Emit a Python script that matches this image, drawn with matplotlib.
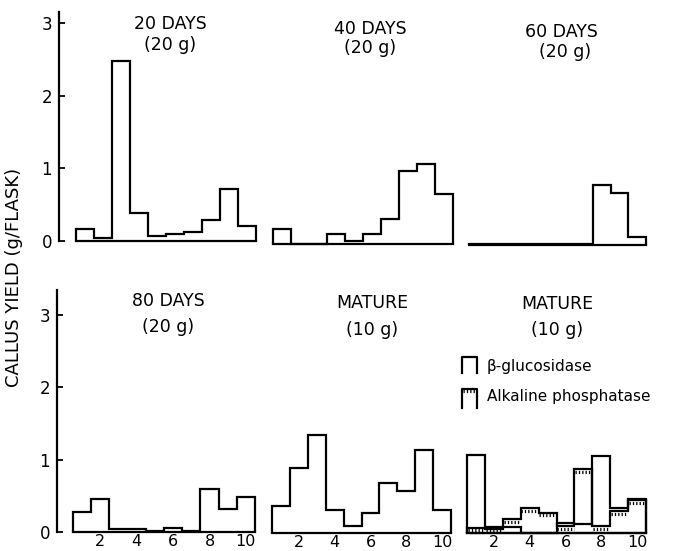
import numpy as np
import matplotlib
matplotlib.use("Agg")
import matplotlib.pyplot as plt
from matplotlib import transforms as mtransforms
from matplotlib.lines import Line2D

# ---------------- data ----------------
fractions = np.arange(1, 11)
edges = np.arange(0.5, 11.0, 1.0)

days20 = [0.16, 0.04, 2.47, 0.39, 0.07, 0.10, 0.12, 0.29, 0.72, 0.21]
days40 = [0.20, 0.00, 0.00, 0.14, 0.04, 0.14, 0.35, 1.01, 1.10, 0.69]
days60 = [0.01, 0.02, 0.01, 0.01, 0.01, 0.02, 0.01, 0.82, 0.72, 0.11]
days80 = [0.28, 0.45, 0.045, 0.045, 0.02, 0.05, 0.02, 0.59, 0.32, 0.49]
mature_a = [0.37, 0.90, 1.35, 0.32, 0.10, 0.28, 0.69, 0.58, 1.14, 0.32]
mature_gluc = [1.08, 0.08, 0.08, 0.00, 0.00, 0.14, 0.12, 1.06, 0.35, 0.47]
mature_alk = [0.07, 0.06, 0.19, 0.34, 0.28, 0.09, 0.88, 0.09, 0.30, 0.45]

titles = [("20 DAYS", "(20 g)"), ("40 DAYS", "(20 g)"), ("60 DAYS", "(20 g)"),
          ("80 DAYS", "(20 g)"), ("MATURE", "(10 g)"), ("MATURE", "(10 g)")]
yticks = [0, 1, 2, 3]
xticks = [2, 4, 6, 8, 10]
ylabel = "CALLUS YIELD (g/FLASK)"
legend_labels = ["\u03b2-glucosidase", "Alkaline phosphatase"]

# ---------------- layout ----------------
W, H = 673, 551
fig = plt.figure(figsize=(W / 100, H / 100), dpi=100)
plt.rcParams['font.family'] = ['DejaVu Sans']
px = mtransforms.Affine2D().scale(1.0 / W, -1.0 / H).translate(0, 1) + fig.transFigure

LW = 1.6
FS_T = 12.5
FS_TICK = 12

def make_ax(x0, x1, base, ytop, scale):
    rect = [x0 / W, (H - base) / H, (x1 - x0) / W, ytop * scale / H]
    ax = fig.add_axes(rect)
    ax.set_xlim(0.5, 10.5)
    ax.set_ylim(0, ytop)
    for s in ax.spines.values():
        s.set_visible(False)
    ax.patch.set_visible(False)
    return ax

top_specs = [(76, 256, 241), (273, 453, 244), (469, 646, 245)]
bot_specs = [(73, 255, 532), (272, 451, 533), (467, 646, 533)]

axes = []
for (x0, x1, b) in top_specs:
    axes.append(make_ax(x0, x1, b, 3.3, 72.7))
for (x0, x1, b) in bot_specs:
    axes.append(make_ax(x0, x1, b, 3.45, 72.4))

def outline(ax, vals):
    ax.stairs(vals, edges, baseline=0, fill=False, color='black',
              linewidth=LW, clip_on=False)
    ax.plot([edges[0], edges[-1]], [0, 0], color='black', lw=LW,
            clip_on=False, solid_capstyle='projecting')

HATCH = (0, (0.4, 0.65))

def hatched(ax, vals):
    outline(ax, vals)
    off = mtransforms.offset_copy(ax.transData, fig=fig, y=-2.4, units='dots')
    ax.hlines(vals, edges[:-1] + 0.04, edges[1:] - 0.04, colors='black',
              linewidth=2.3, linestyles=HATCH, transform=off, clip_on=False)

series = [days20, days40, days60, days80, mature_a]
for ax, vals in zip(axes[:5], series):
    outline(ax, vals)
outline(axes[5], mature_gluc)
hatched(axes[5], mature_alk)

# axes / ticks
for i, ax in enumerate(axes):
    if i in (0, 3):
        ax.spines['left'].set_visible(True)
        ax.spines['left'].set_linewidth(LW)
        ax.spines['left'].set_position(('outward', 12.2 if i == 0 else 11.5))
        ax.spines['left'].set_bounds(0, 3.15 if i == 0 else 3.34)
        ax.set_yticks(yticks)
        ax.set_yticklabels([str(t) for t in yticks])
        ax.tick_params(axis='y', direction='in', length=4.3, width=1.3,
                       labelsize=FS_TICK, pad=5)
    else:
        ax.set_yticks([])
    if i >= 3:
        ax.set_xticks(xticks)
        ax.set_xticklabels([str(t) for t in xticks])
        ax.tick_params(axis='x', length=0, labelsize=11.5, pad=1.5)
    else:
        ax.set_xticks([])

# titles
title_pos = [((170, 24), (170, 45)), ((370, 29), (370, 48)), ((561, 32), (565, 52)),
             ((168, 301), (168, 327)), ((372, 303), (372, 330)), ((557, 304), (557, 330))]
for (t1, t2), ((x1, y1), (x2, y2)) in zip(titles, title_pos):
    fig.text(x1, y1, t1, transform=px, ha='center', va='center', fontsize=FS_T)
    fig.text(x2, y2, t2, transform=px, ha='center', va='center', fontsize=FS_T)

# y label
fig.text(14, 277, ylabel, transform=px, rotation=90, ha='center', va='center',
         fontsize=13)

# legend
fig.add_artist(Line2D([462, 462, 477, 477], [373, 357, 357, 373], transform=px,
                      color='black', lw=LW))
fig.add_artist(Line2D([462, 462, 477, 477], [408, 389, 389, 408], transform=px,
                      color='black', lw=LW))
fig.add_artist(Line2D([463, 476], [391.4, 391.4], transform=px, color='black',
                      lw=2.3, linestyle=HATCH))
fig.text(487, 366, legend_labels[0], transform=px, ha='left', va='center', fontsize=11)
fig.text(487, 396, legend_labels[1], transform=px, ha='left', va='center', fontsize=11)

fig.savefig("out.png", dpi=100)
